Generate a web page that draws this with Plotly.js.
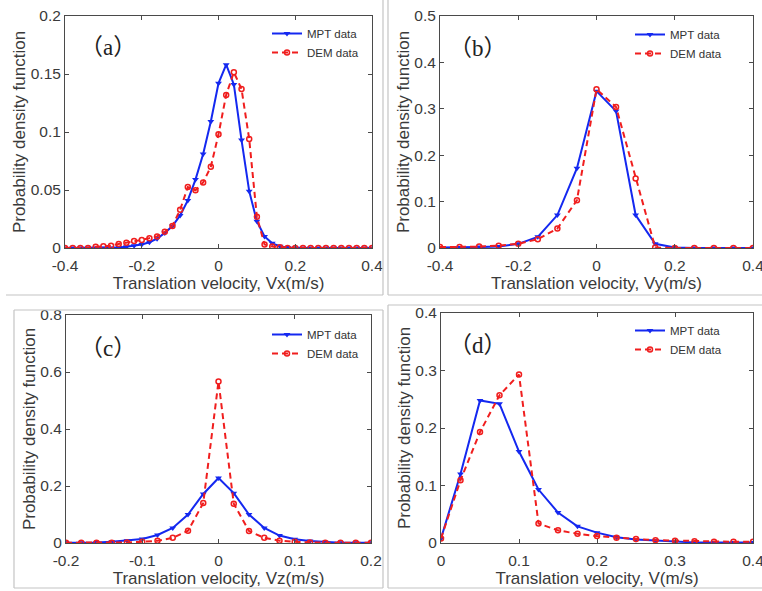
<!DOCTYPE html>
<html>
<head>
<meta charset="utf-8">
<script src="https://cdn.plot.ly/plotly-3.0.1.min.js"></script>
<style>html,body{margin:0;padding:0;background:#fff;}#chart{width:762px;height:591px;}</style>
</head>
<body>
<div id="chart"></div>
<script>
// ---- Data ----
const xA = [-0.4,-0.38,-0.36,-0.34,-0.32,-0.3,-0.28,-0.26,-0.24,-0.22,-0.2,-0.18,-0.16,-0.14,-0.12,-0.1,-0.08,-0.06,-0.04,-0.02,0,0.02,0.04,0.06,0.08,0.1,0.12,0.14,0.16,0.18,0.2,0.22,0.24,0.26,0.28,0.3,0.32,0.34,0.36,0.38,0.4];
const mptA = [0,0,0,0,0,0,0,0.0005,0.001,0.002,0.003,0.005,0.008,0.013,0.019,0.028,0.041,0.059,0.081,0.109,0.142,0.158,0.141,0.093,0.049,0.023,0.010,0.004,0.0015,0.0005,0,0,0,0,0,0,0,0,0,0,0];
const demA = [0,0,0,0,0.001,0.0015,0.002,0.0035,0.0045,0.006,0.007,0.0085,0.010,0.014,0.019,0.033,0.0525,0.0497,0.0565,0.070,0.098,0.132,0.1515,0.137,0.094,0.027,0.003,0.0012,0.0006,0,0,0,0,0,0,0,0,0,0,0,0];

const xB = [-0.4,-0.35,-0.3,-0.25,-0.2,-0.15,-0.1,-0.05,0,0.05,0.1,0.15,0.2,0.25,0.3,0.35,0.4];
const mptB = [0.001,0.001,0.002,0.003,0.009,0.024,0.071,0.172,0.338,0.295,0.071,0.009,0.001,0,0,0,0];
const demB = [0.002,0.002,0.003,0.005,0.009,0.019,0.042,0.103,0.342,0.304,0.150,0.001,0,0,0,0,0];

const xC = [-0.2,-0.18,-0.16,-0.14,-0.12,-0.1,-0.08,-0.06,-0.04,-0.02,0,0.02,0.04,0.06,0.08,0.1,0.12,0.14,0.16,0.18,0.2];
const mptC = [0.001,0.001,0.002,0.004,0.008,0.014,0.028,0.053,0.100,0.172,0.228,0.175,0.100,0.053,0.026,0.013,0.007,0.003,0.001,0.001,0.001];
const demC = [0.001,0.001,0.001,0.001,0.002,0.004,0.008,0.018,0.043,0.140,0.567,0.138,0.042,0.018,0.008,0.004,0.002,0.001,0.001,0.001,0.001];

const xD = [0,0.025,0.05,0.075,0.1,0.125,0.15,0.175,0.2,0.225,0.25,0.275,0.3,0.325,0.35,0.375,0.4];
const mptD = [0.008,0.120,0.248,0.242,0.159,0.093,0.053,0.029,0.018,0.010,0.006,0.004,0.002,0.001,0.001,0.001,0.001];
const demD = [0.008,0.109,0.193,0.257,0.293,0.034,0.022,0.016,0.012,0.009,0.007,0.005,0.004,0.003,0.002,0.002,0.002];

const panelLabels = ['（a）','（b）','（c）','（d）'];
const xTitles = ['Translation velocity, Vx(m/s)','Translation velocity, Vy(m/s)','Translation velocity, Vz(m/s)','Translation velocity, V(m/s)'];
const yTitle = 'Probability density function';
const seriesNames = ['MPT data','DEM data'];

const xTickA = [-0.4,-0.2,0,0.2,0.4], xTickTextA = ['-0.4','-0.2','0','0.2','0.4'];
const yTickA = [0,0.05,0.1,0.15,0.2], yTickTextA = ['0','0.05','0.1','0.15','0.2'];
const yTickB = [0,0.1,0.2,0.3,0.4,0.5], yTickTextB = ['0','0.1','0.2','0.3','0.4','0.5'];
const xTickC = [-0.2,-0.1,0,0.1,0.2], xTickTextC = ['-0.2','-0.1','0','0.1','0.2'];
const yTickC = [0,0.2,0.4,0.6,0.8], yTickTextC = ['0','0.2','0.4','0.6','0.8'];
const xTickD = [0,0.1,0.2,0.3,0.4], xTickTextD = ['0','0.1','0.2','0.3','0.4'];
const yTickD = [0,0.1,0.2,0.3,0.4], yTickTextD = ['0','0.1','0.2','0.3','0.4'];

// ---- Layout helpers ----
const W = 762, H = 591;
const px = x => x / W;
const py = y => 1 - y / H;
const BLUE = '#1428f0', RED = '#f01e1e';

const panels = [
  {x: xA, m: mptA, d: demA, box:[65,372,16,248], xr:[-0.4,0.4], yr:[0,0.2], xt:xTickA, xtt:xTickTextA, yt:yTickA, ytt:yTickTextA, lab:[108,47], leg:[307,34]},
  {x: xB, m: mptB, d: demB, box:[440,753,16,248], xr:[-0.4,0.4], yr:[0,0.5], xt:xTickA, xtt:xTickTextA, yt:yTickB, ytt:yTickTextB, lab:[478,48], leg:[670,35]},
  {x: xC, m: mptC, d: demC, box:[66,371,315,543], xr:[-0.2,0.2], yr:[0,0.8], xt:xTickC, xtt:xTickTextC, yt:yTickC, ytt:yTickTextC, lab:[108,348], leg:[307,335]},
  {x: xD, m: mptD, d: demD, box:[441,753,313,543], xr:[0,0.4], yr:[0,0.4], xt:xTickD, xtt:xTickTextD, yt:yTickD, ytt:yTickTextD, lab:[478,345], leg:[670,331]}
];

const traces = [];
const layout = {
  width: W, height: H,
  margin: {l:0, r:0, t:0, b:0},
  paper_bgcolor: '#fff', plot_bgcolor: '#fff',
  font: {family: 'Liberation Sans, Arial, sans-serif', size: 15, color: '#3a3a3a'},
  annotations: [], shapes: []
};

const tickFont = {family: 'Liberation Sans, Arial, sans-serif', size: 15.5, color: '#3a3a3a'};
const titleFont = {family: 'Liberation Sans, Arial, sans-serif', size: 17, color: '#3a3a3a'};

panels.forEach((p, i) => {
  const n = i === 0 ? '' : String(i + 1);
  const xa = 'x' + n, ya = 'y' + n;
  const legName = i === 0 ? 'legend' : 'legend' + (i + 1);
  traces.push({
    x: p.x, y: p.m, xaxis: xa, yaxis: ya, name: seriesNames[0], legend: legName,
    type: 'scatter', mode: 'lines+markers',
    line: {color: BLUE, width: 2},
    marker: {symbol: 'triangle-down', size: 6, color: BLUE}
  });
  traces.push({
    x: p.x, y: p.d, xaxis: xa, yaxis: ya, name: seriesNames[1], legend: legName,
    type: 'scatter', mode: 'lines+markers',
    line: {color: RED, width: 2, dash: '6px,4px'},
    marker: {symbol: 'circle-open', size: 5, color: RED, line: {width: 1.5, color: RED}}
  });
  const common = {
    showline: true, linecolor: '#4a4a4a', linewidth: 1, mirror: 'ticks',
    ticks: 'inside', ticklen: 4, tickcolor: '#4a4a4a', tickwidth: 1,
    showgrid: false, zeroline: false, tickmode: 'array', tickfont: tickFont,
    ticklabeloverflow: 'allow', fixedrange: true
  };
  layout['xaxis' + n] = Object.assign({}, common, {
    domain: [px(p.box[0]), px(p.box[1])], range: p.xr, anchor: ya,
    tickvals: p.xt, ticktext: p.xtt, ticklabelstandoff: 3,
    title: {text: xTitles[i], font: titleFont, standoff: 2}
  });
  layout['yaxis' + n] = Object.assign({}, common, {
    domain: [py(p.box[3]), py(p.box[2])], range: p.yr, anchor: xa,
    tickvals: p.yt, ticktext: p.ytt,
    title: {text: yTitle, font: titleFont, standoff: 0}
  });
  layout[legName] = {
    x: px(p.leg[0] - 40), y: py(p.leg[1] - 15), xanchor: 'left', yanchor: 'top',
    bgcolor: 'rgba(0,0,0,0)', borderwidth: 0,
    font: {family: 'Liberation Sans, Arial, sans-serif', size: 11.5, color: '#333'},
    itemwidth: 30, tracegroupgap: 0
  };
  layout.annotations.push({
    xref: 'paper', yref: 'paper', x: px(p.lab[0]), y: py(p.lab[1]),
    xanchor: 'center', yanchor: 'middle', showarrow: false,
    text: panelLabels[i],
    font: {family: 'Liberation Serif, Times New Roman, Noto Sans CJK SC, serif', size: 23, color: '#222'}
  });
});

// decorative panel frames (light gray), pixel positions
const frameColor = '#c4c4c4';
const seg = (x0, y0, x1, y1) => ({type:'line', xref:'paper', yref:'paper', x0:px(x0), y0:py(y0), x1:px(x1), y1:py(y1), line:{color: frameColor, width: 1.2}});
layout.shapes.push(
  seg(383, 0, 383, 295), seg(6, 295, 383, 295),
  seg(388, 0, 388, 295), seg(388, 295, 762, 295),
  seg(14, 310, 383, 310), seg(14, 310, 14, 588), seg(14, 588, 383, 588), seg(383, 310, 383, 588),
  seg(388, 305, 762, 305), seg(388, 305, 388, 588), seg(388, 588, 762, 588)
);

Plotly.newPlot('chart', traces, layout, {displayModeBar: false, staticPlot: true});
</script>
</body>
</html>
